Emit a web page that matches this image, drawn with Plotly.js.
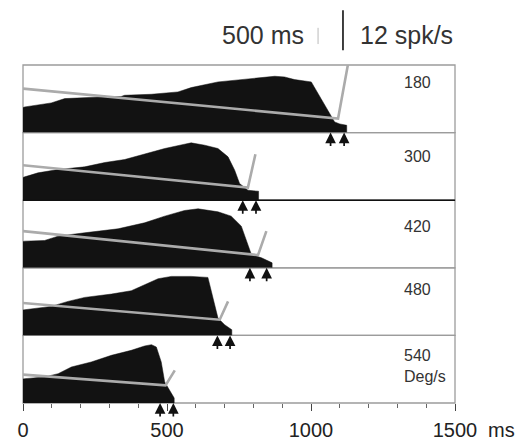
<!DOCTYPE html>
<html>
<head>
<meta charset="utf-8">
<script src="https://cdn.plot.ly/plotly-3.0.1.min.js"></script>
<style>html,body{margin:0;padding:0;background:#fff;}#chart{width:525px;height:440px;}</style>
</head>
<body>
<div id="chart"></div>
<script>
// ---- data (time in ms, rate in spk/s) ----
const speeds = ['180', '300', '420', '480', '540'];
const speedUnit = 'Deg/s';

const t180 = [0, 6, 98, 145, 272, 340, 353, 446, 538, 584, 677, 793, 874, 908, 943, 1001, 1024, 1047, 1070, 1082, 1100, 1124, 1124];
const r180 = [7.5, 7.7, 8.9, 10.2, 10.7, 10.8, 11.2, 11.5, 12.2, 13.5, 15.2, 16.2, 16.9, 16.7, 15.9, 15.2, 11.7, 8.2, 4.7, 3.2, 2.6, 2.2, 0];
const t300 = [0, 6, 52, 122, 214, 284, 353, 422, 492, 561, 584, 631, 677, 712, 735, 752, 781, 800, 818, 818];
const r300 = [6.8, 7.0, 8.2, 9.2, 10.0, 11.3, 12.2, 13.8, 15.5, 16.8, 17.2, 16.5, 15.5, 13.0, 9.0, 5.0, 3.0, 2.8, 2.7, 0];
const t420 = [0, 6, 75, 122, 214, 330, 422, 492, 561, 608, 677, 723, 758, 776, 793, 828, 850, 865, 865];
const r420 = [7.9, 8.0, 8.2, 9.5, 10.5, 11.7, 13.5, 15.5, 17.2, 17.7, 16.8, 15.5, 12.5, 8.0, 4.0, 3.0, 2.0, 1.5, 0];
const t480 = [0, 6, 98, 156, 214, 307, 376, 422, 469, 515, 584, 642, 660, 677, 700, 719, 725, 725];
const r480 = [7.6, 7.7, 8.7, 10.2, 11.4, 12.4, 13.4, 15.2, 17.0, 17.7, 17.7, 17.4, 11.2, 5.2, 3.2, 2.0, 1.7, 0];
const t540 = [0, 6, 75, 122, 168, 237, 307, 376, 422, 446, 463, 480, 492, 509, 521, 525, 525];
const r540 = [7.2, 7.3, 7.8, 8.8, 10.8, 12.3, 14.3, 15.8, 17.1, 17.5, 16.8, 12.3, 6.3, 3.8, 1.8, 1.5, 0];

// grey fitted lines: [start, vertex, end]
const fitT180 = [0, 1094, 1128], fitR180 = [13.2, 4.2, 20.3];
const fitT300 = [0, 781, 807],   fitR300 = [10.5, 3.8, 13.8];
const fitT420 = [0, 816, 845],   fitR420 = [11.0, 3.8, 11.0];
const fitT480 = [0, 683, 712],   fitR480 = [9.7, 4.7, 10.2];
const fitT540 = [0, 495, 527],   fitR540 = [8.5, 5.3, 9.8];

// arrow markers (ms)
const arrows180 = [1068, 1115];
const arrows300 = [763, 809];
const arrows420 = [788, 846];
const arrows480 = [675, 719];
const arrows540 = [476, 522];

const scaleSpk = 12;      // vertical scale bar value
const xMax = 1500;
const yMax = 20.28;

// ---- build ----
const rateT = [t180, t300, t420, t480, t540];
const rateR = [r180, r300, r420, r480, r540];
const fitT = [fitT180, fitT300, fitT420, fitT480, fitT540];
const fitR = [fitR180, fitR300, fitR420, fitR480, fitR540];
const arrowT = [arrows180, arrows300, arrows420, arrows480, arrows540];

const FONT = 'Liberation Sans, Arial, Helvetica, sans-serif';
const n = speeds.length;
const yNames = [];   // top panel first
for (let i = 0; i < n; i++) yNames.push(i === n - 1 ? 'y' : 'y' + (n - i));

const traces = [];
const annotations = [];
const shapes = [];
const labelOffsets = [17.5, 24, 26, 21.5, 24.5];

const layout = {
  width: 525, height: 440,
  margin: {l: 23, r: 70, t: 65, b: 37, pad: 0},
  paper_bgcolor: '#fff', plot_bgcolor: 'rgba(0,0,0,0)',
  showlegend: false,
  font: {family: FONT, color: '#222'},
  xaxis: {
    range: [0, xMax], anchor: 'y', tickmode: 'linear', tick0: 0, dtick: 500,
    ticks: 'outside', ticklen: 7, tickwidth: 1, tickcolor: '#444', ticklabelstandoff: 2,
    showgrid: false, zeroline: false, showline: false,
    tickfont: {size: 20, color: '#222', family: FONT},
    minor: {dtick: 100, tick0: 0, ticks: 'outside', ticklen: 4, tickcolor: '#666', showgrid: false}
  }
};

for (let i = 0; i < n; i++) {
  const yn = yNames[i];
  const axKey = yn === 'y' ? 'yaxis' : 'yaxis' + yn.slice(1);
  layout[axKey] = {
    domain: [(n - 1 - i) / n, (n - i) / n], range: [0, yMax], anchor: 'x',
    visible: false, fixedrange: true
  };
  traces.push({
    x: rateT[i], y: rateR[i], xaxis: 'x', yaxis: yn, type: 'scatter', mode: 'lines',
    fill: 'tozeroy', fillcolor: '#121212', line: {width: 0.5, color: '#121212'}, hoverinfo: 'skip'
  });
  traces.push({
    x: fitT[i], y: fitR[i], xaxis: 'x', yaxis: yn, type: 'scatter', mode: 'lines',
    line: {width: 2.6, color: '#ababab'}, cliponaxis: true, hoverinfo: 'skip'
  });
  shapes.push({type: 'rect', xref: 'paper', yref: yn + ' domain', x0: 0, x1: 1, y0: 0, y1: 1,
    line: {color: '#9c9c9c', width: 1.3}, layer: 'below'});
  arrowT[i].forEach(t => annotations.push({
    x: t, y: 0, xref: 'x', yref: yn, ax: 0, ay: 15, showarrow: true, text: '',
    arrowhead: 2, arrowsize: 1.25, arrowwidth: 1.7, arrowcolor: '#111', standoff: 0
  }));
  const lbl = i === n - 1 ? speeds[i] + '<br>' + speedUnit : speeds[i];
  annotations.push({
    text: lbl, xref: 'paper', yref: yn + ' domain', x: 0.877, y: 1, xanchor: 'left',
    yanchor: i === n - 1 ? 'top' : 'middle', align: 'left',
    yshift: i === n - 1 ? -10 : -labelOffsets[i], showarrow: false,
    font: {size: 16, color: '#333', family: FONT}
  });
}

// dark boundary between 2nd and 3rd panel
shapes.push({type: 'line', xref: 'paper', yref: yNames[1] + ' domain', x0: 0, x1: 1, y0: 0, y1: 0,
  line: {color: '#111', width: 1.6}, layer: 'above'});

// scale bars above the plot
const panelFrac = 1 / n;
const spkFrac = scaleSpk / yMax * panelFrac;
const barBottom = 1.044;
shapes.push({type: 'line', xref: 'paper', yref: 'paper', x0: 0.7407, x1: 0.7407, y0: barBottom, y1: barBottom + spkFrac,
  line: {color: '#111', width: 1.6}});
shapes.push({type: 'line', xref: 'paper', yref: 'paper', x0: 0.683, x1: 0.683, y0: 1.062, y1: 1.11,
  line: {color: '#bbb', width: 1}});
annotations.push({text: '500 ms', xref: 'paper', yref: 'paper', x: 0.655, y: 1.088, xanchor: 'right', yanchor: 'middle',
  showarrow: false, font: {size: 25, color: '#333', family: FONT}});
annotations.push({text: scaleSpk + ' spk/s', xref: 'paper', yref: 'paper', x: 0.776, y: 1.088, xanchor: 'left', yanchor: 'middle',
  showarrow: false, font: {size: 25, color: '#333', family: FONT}});
annotations.push({text: 'ms', xref: 'x', yref: 'paper', x: xMax, y: -0.08, xshift: 31, xanchor: 'left', yanchor: 'middle',
  showarrow: false, font: {size: 20, color: '#222', family: FONT}});

layout.shapes = shapes;
layout.annotations = annotations;

Plotly.newPlot('chart', traces, layout, {displayModeBar: false, staticPlot: true});
</script>
</body>
</html>
